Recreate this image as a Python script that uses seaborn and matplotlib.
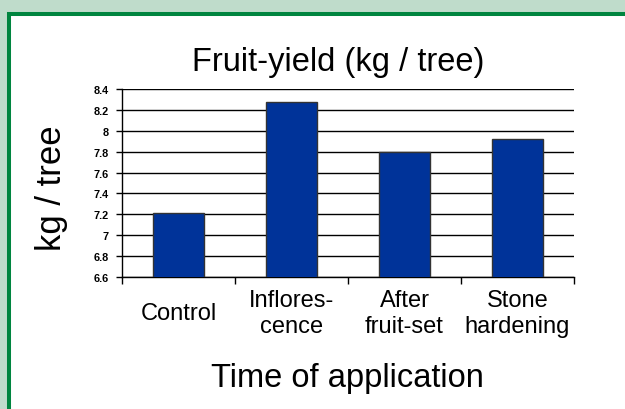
import matplotlib
matplotlib.use('Agg')
import matplotlib.pyplot as plt
import matplotlib.patches as mpatches
import seaborn as sns
import pandas as pd

# data
stages = ['Control', 'Inflores-\ncence', 'After\nfruit-set', 'Stone\nhardening']
yield_kg = [7.21, 8.28, 7.80, 7.92]
yticks = [6.6, 6.8, 7.0, 7.2, 7.4, 7.6, 7.8, 8.0, 8.2, 8.4]
ytick_labels = ['6.6', '6.8', '7', '7.2', '7.4', '7.6', '7.8', '8', '8.2', '8.4']

sns.set_style('white')
plt.rcParams['font.family'] = ['Liberation Sans', 'DejaVu Sans']
plt.rcParams['text.color'] = 'black'
plt.rcParams['axes.labelcolor'] = 'black'
plt.rcParams['xtick.color'] = 'black'
plt.rcParams['ytick.color'] = 'black'

df = pd.DataFrame({'stage': stages, 'kg': yield_kg})

fig = plt.figure(figsize=(6.25, 4.1), dpi=100, facecolor='#bfdccb')
# white panel with green frame
frame = mpatches.Rectangle((9 / 625, -0.2), 1.5, 1 - 15 / 410 + 0.2,
                           transform=fig.transFigure, facecolor='white',
                           edgecolor='#00853f', lw=2.9, zorder=0)
fig.add_artist(frame)

ax = fig.add_axes([122 / 625, 1 - 278 / 410, 452 / 625, 188 / 410])
ax.set_facecolor('none')
ax.set_axisbelow(True)

sns.barplot(data=df, x='stage', y='kg', color='#003399', saturation=1,
            edgecolor='#333333', linewidth=1, width=0.46, ax=ax, zorder=3)

ax.set_ylim(6.6, 8.4)
ax.set_xlim(-0.5, 3.5)
ax.set_yticks(yticks)
ax.set_yticklabels(ytick_labels, fontsize=7.8, fontweight='bold')
ax.yaxis.grid(True, color='black', lw=1)
ax.tick_params(axis='y', length=4.5, width=1, color='black', left=True, pad=5)

# category separators as minor ticks
ax.set_xticks([-0.5, 0.5, 1.5, 2.5, 3.5], minor=True)
ax.tick_params(axis='x', which='minor', length=5, width=1, color='black',
               direction='out', bottom=True)
ax.tick_params(axis='x', which='major', length=0, pad=26, labelsize=17)
for lbl in ax.get_xticklabels():
    lbl.set_verticalalignment('center')
    lbl.set_linespacing(1.25)

for s in ['top', 'right']:
    ax.spines[s].set_visible(False)
for s in ['left', 'bottom']:
    ax.spines[s].set_color('black')
    ax.spines[s].set_linewidth(1)

ax.set_title('Fruit-yield (kg / tree)', fontsize=23.5, x=0.478, pad=14)
ax.set_xlabel('Time of application', fontsize=23.5)
ax.xaxis.set_label_coords(0.498, -0.45)
ax.set_ylabel('kg / tree', fontsize=25)
ax.yaxis.set_label_coords(-0.12, 0.48)

fig.savefig('out.png', dpi=100, facecolor=fig.get_facecolor())
